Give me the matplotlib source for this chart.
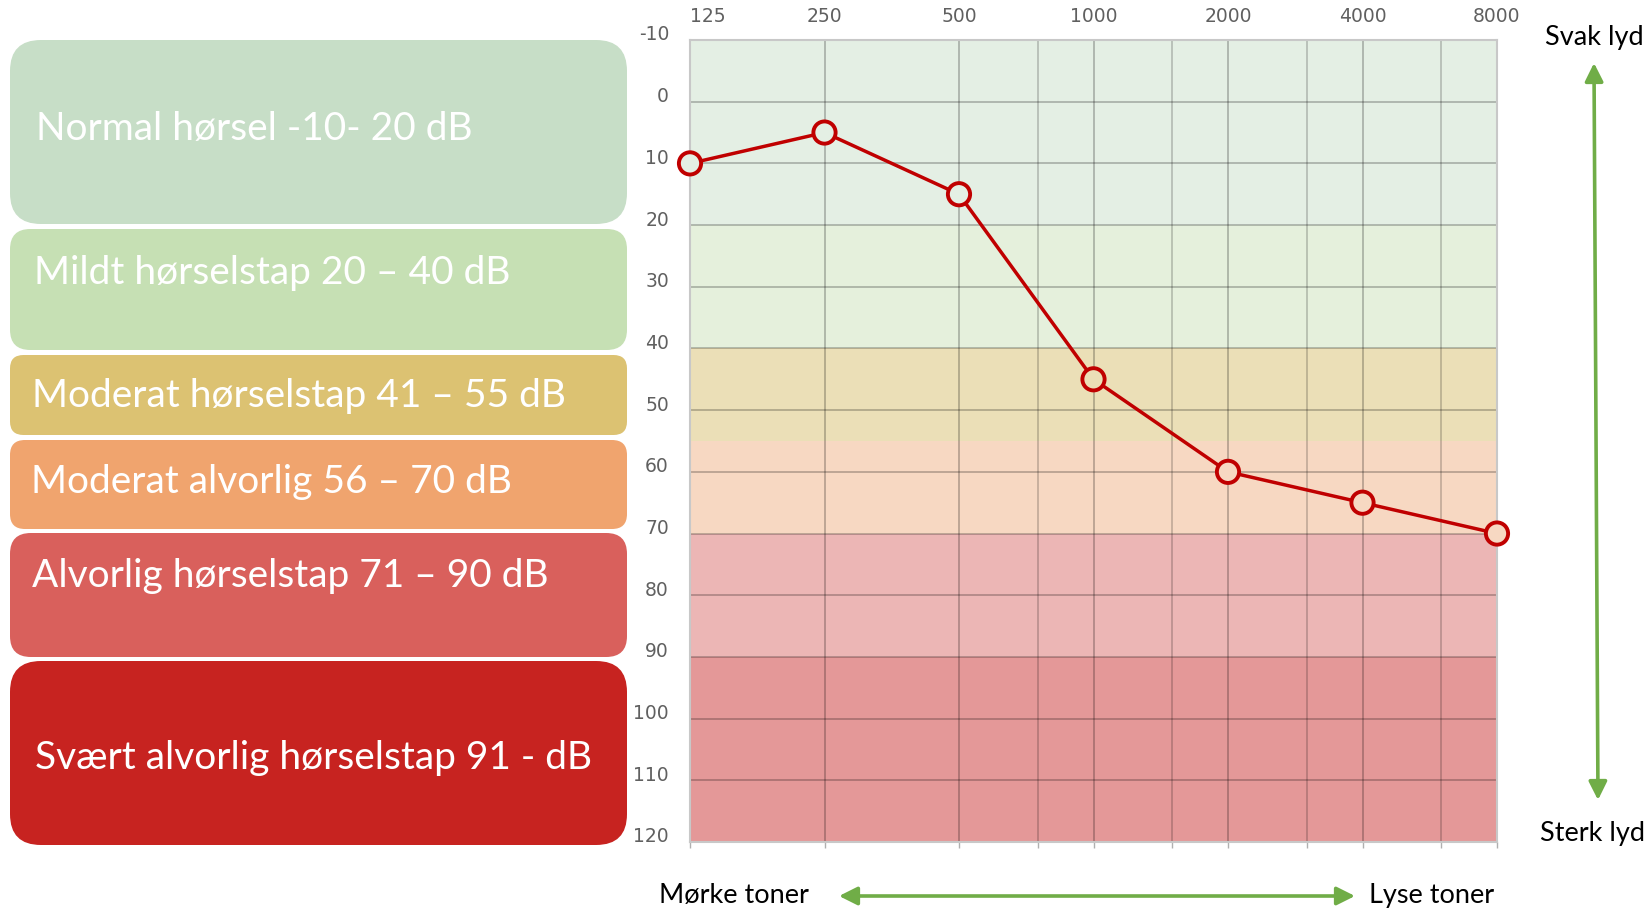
import matplotlib
matplotlib.use("Agg")
import matplotlib.pyplot as plt
import matplotlib.transforms as mtransforms
from matplotlib.patches import FancyBboxPatch, FancyArrowPatch
from matplotlib.ticker import FixedLocator, NullFormatter
import numpy as np

# ---------------- data ----------------
freqs = [125, 250, 500, 1000, 2000, 4000, 8000]
freq_labels = ["125", "250", "500", "1000", "2000", "4000", "8000"]
half_octaves = [750, 1500, 3000, 6000]
thresholds = [10, 5, 15, 45, 60, 65, 70]
db_ticks = list(range(-10, 121, 10))
db_labels = [str(v) for v in db_ticks]
band_edges = [-10, 20, 40, 55, 70, 90, 120]
band_colors = ["#e4efe4", "#e5f0dc", "#ebdfb7", "#f7d8c2", "#ecb6b5", "#e49898"]
categories = [
    "Normal hørsel -10- 20 dB",
    "Mildt hørselstap 20 – 40 dB",
    "Moderat hørselstap 41 – 55 dB",
    "Moderat alvorlig 56 – 70 dB",
    "Alvorlig hørselstap 71 – 90 dB",
    "Svært alvorlig hørselstap 91 - dB",
]
category_colors = ["#c7dec7", "#c6e0b4", "#dcc272", "#f0a46e", "#d9605c", "#c72320"]

# ---------------- layout (pixels) ----------------
W, H = 1648, 910
DPI = 100
box_left, box_right = 10, 627
box_tops = [40, 229, 355, 440, 533, 661]
box_bottoms = [224, 350, 435, 529, 657, 845]
text_x = [36, 34, 32, 31, 32, 35]
text_base = [140, 284, 407, 493, 587, 769]

fig = plt.figure(figsize=(W / DPI, H / DPI), dpi=DPI)
fig.patch.set_facecolor("white")

# overlay axes in pixel coordinates
ax0 = fig.add_axes([0, 0, 1, 1])
ax0.set_xlim(0, W)
ax0.set_ylim(H, 0)
ax0.axis("off")
ax0.set_zorder(0)

TXT_FONT = ["Lato", "DejaVu Sans"]

for i, (lab, col) in enumerate(zip(categories, category_colors)):
    top, bot = box_tops[i], box_bottoms[i]
    h = bot - top
    r = min(31, 0.168 * h)
    p = FancyBboxPatch((box_left, top), box_right - box_left, h,
                       boxstyle=f"round,pad=0,rounding_size={r}",
                       facecolor=col, edgecolor="none")
    ax0.add_patch(p)
    ax0.text(text_x[i], text_base[i], lab, color="white", fontsize=28,
             family=TXT_FONT, ha="left", va="baseline")

# side annotations
ax0.text(1594, 37, "Svak lyd", fontsize=19.5, family=TXT_FONT, ha="center", va="center", color="black")
ax0.text(1593, 834, "Sterk lyd", fontsize=19.5, family=TXT_FONT, ha="center", va="center", color="black")
ax0.text(734, 896, "Mørke toner", fontsize=19.5, family=TXT_FONT, ha="center", va="center", color="black")
ax0.text(1432, 896, "Lyse toner", fontsize=19.5, family=TXT_FONT, ha="center", va="center", color="black")

green = "#70ad47"
ax0.add_patch(FancyArrowPatch((1594, 63), (1598, 800),
                              arrowstyle="<|-|>,head_length=11,head_width=5.5",
                              mutation_scale=1, color=green, lw=2.6,
                              shrinkA=0, shrinkB=0))
ax0.add_patch(FancyArrowPatch((839, 896), (1355, 896),
                              arrowstyle="<|-|>,head_length=11,head_width=5.5",
                              mutation_scale=1, color=green, lw=2.6,
                              shrinkA=0, shrinkB=0))

# ---------------- audiogram axes ----------------
ax_l, ax_r, ax_t, ax_b = 690, 1497, 40, 842
ax = fig.add_axes([ax_l / W, 1 - ax_b / H, (ax_r - ax_l) / W, (ax_b - ax_t) / H])
ax.set_zorder(1)
ax.set_xscale("log", base=2)
ax.set_xlim(freqs[0], freqs[-1])
ax.set_ylim(band_edges[-1], band_edges[0])

for lo, hi, c in zip(band_edges[:-1], band_edges[1:], band_colors):
    ax.axhspan(lo, hi, facecolor=c, edgecolor="none", zorder=0)

grid_col = (0, 0, 0, 0.27)
for f in freqs[1:-1]:
    ax.axvline(f, color=grid_col, lw=1.2, zorder=1)
for f in half_octaves:
    ax.axvline(f, color=(0, 0, 0, 0.22), lw=1.2, zorder=1)
for v in db_ticks[1:-1]:
    ax.axhline(v, color=grid_col, lw=1.2, zorder=1)

# top tick labels
ax.xaxis.set_major_locator(FixedLocator(freqs))
ax.set_xticklabels(freq_labels)
ax.xaxis.set_minor_locator(FixedLocator(half_octaves))
ax.xaxis.set_minor_formatter(NullFormatter())
ax.tick_params(axis="x", which="both", top=False, bottom=True, labeltop=True, labelbottom=False,
               direction="out", length=4, width=1, color="#b0b0b0",
               labelsize=13.5, labelcolor="#606060")
ax.tick_params(axis="x", which="major", pad=6)
for t in ax.xaxis.get_majorticklabels():
    t.set_fontfamily("DejaVu Sans")
labs = ax.xaxis.get_majorticklabels()
labs[0].set_horizontalalignment("left")

ax.set_yticks([])
ytrans = mtransforms.blended_transform_factory(ax.transAxes, ax.transData) + \
    mtransforms.ScaledTranslation(-21 / DPI, 5 / DPI, fig.dpi_scale_trans)
for v, s in zip(db_ticks, db_labels):
    ax.text(0, v, s, transform=ytrans, ha="right", va="center", fontsize=13.5,
            color="#606060", family="DejaVu Sans", clip_on=False)

for sp in ax.spines.values():
    sp.set_color("#c8c8c8")
    sp.set_linewidth(1.5)
    sp.set_zorder(2)

# curve
red = "#c00000"
ax.plot(freqs, thresholds, color=red, lw=2.5, zorder=3, solid_capstyle="round")
face = [band_colors[max(np.searchsorted(band_edges, t, side="left") - 1, 0)]
        for t in thresholds]
ax.scatter(freqs, thresholds, s=16 ** 2, facecolors=face, edgecolors=red,
           linewidths=2.8, zorder=4, clip_on=False)

fig.savefig("out.png", dpi=DPI, facecolor="white")
